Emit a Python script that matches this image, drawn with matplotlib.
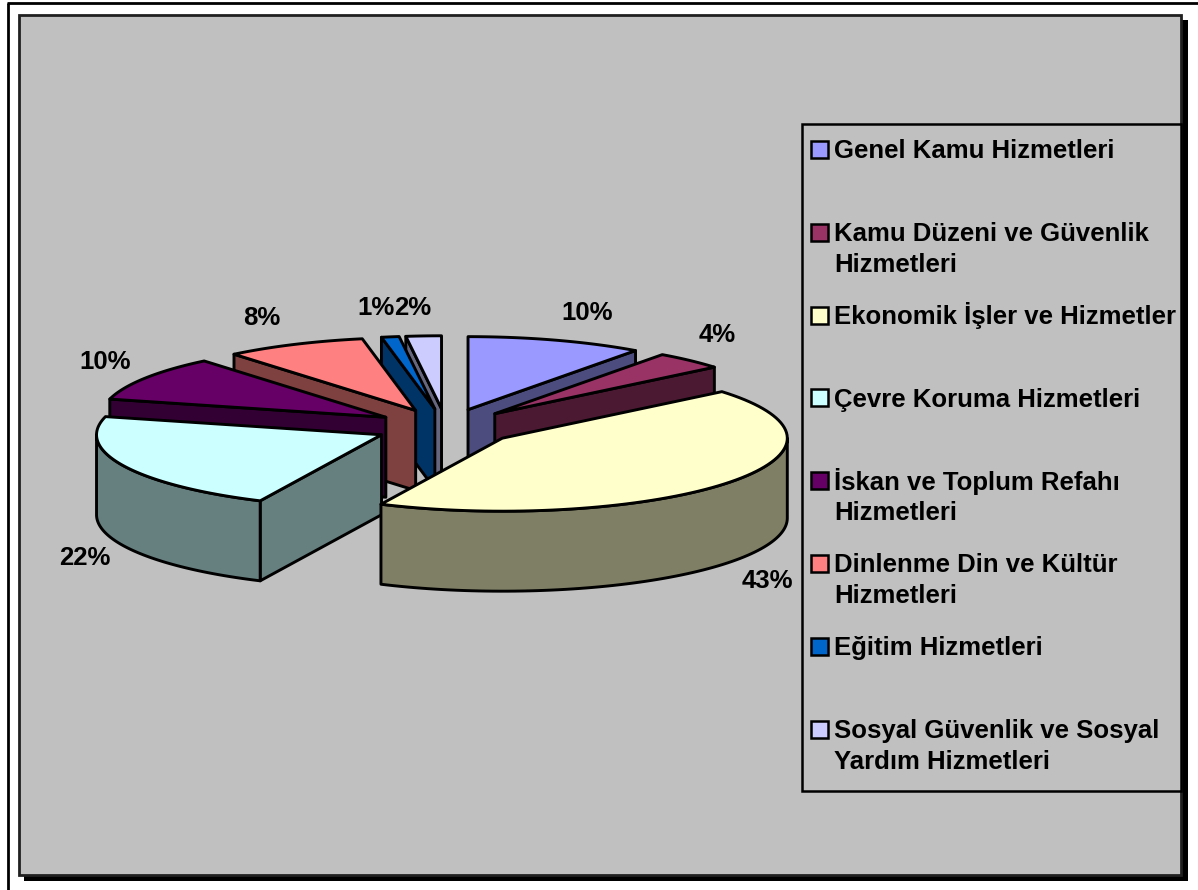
import numpy as np
import matplotlib
matplotlib.use("Agg")
import matplotlib.pyplot as plt
from matplotlib.patches import Polygon, Rectangle

labels = [
    "Genel Kamu Hizmetleri",
    "Kamu Düzeni ve Güvenlik\nHizmetleri",
    "Ekonomik İşler ve Hizmetler",
    "Çevre Koruma Hizmetleri",
    "İskan ve Toplum Refahı\nHizmetleri",
    "Dinlenme Din ve Kültür\nHizmetleri",
    "Eğitim Hizmetleri",
    "Sosyal Güvenlik ve Sosyal\nYardım Hizmetleri",
]
values = [10, 4, 43, 22, 10, 8, 1, 2]
top_colors = ["#9999FF", "#993366", "#FFFFCC", "#CCFFFF", "#660066", "#FF8080", "#0066CC", "#CCCCFF"]
side_colors = ["#4C4C7F", "#4C1933", "#7F7F66", "#667F7F", "#330033", "#7F4040", "#003366", "#66667F"]
label_pos = [(587, 313), (717, 335), (767, 581), (85, 558), (105, 362), (262, 318), (376, 308), (413, 308)]

BG = "#C0C0C0"
FONT = "Liberation Sans"
LW = 2.1
FONT_SIZE = 18.5

# pie geometry, in pixels
CX, CY = 446, 427
RX, RY = 285, 73
DEPTH = 80
EXPLODE = 0.25


def pt(a, r_x, r_y, ox, oy):
    return ox + r_x * np.sin(a), oy - r_y * np.cos(a)


def arc(a1, a2, ox, oy, dy=0):
    angles = np.linspace(a1, a2, 80)
    return np.column_stack([ox + RX * np.sin(angles), oy + dy - RY * np.cos(angles)])


def add_poly(ax, points, color, z):
    ax.add_patch(Polygon(points, closed=True, facecolor=color, edgecolor="black",
                         linewidth=LW, joinstyle="round", zorder=z))


def draw_slice(ax, a1, a2, top, side, z):
    mid = (a1 + a2) / 2
    ox, oy = pt(mid, EXPLODE * RX, EXPLODE * RY, CX, CY)
    apex = np.array([[ox, oy]])
    down = np.array([0, DEPTH])

    # cut faces, only the ones turned to the viewer
    if np.sin(a1) < -1e-6:
        p = arc(a1, a1, ox, oy)[:1]
        add_poly(ax, np.vstack([apex, p, p + down, apex + down]), side, z)
    if np.sin(a2) > 1e-6:
        p = arc(a2, a2, ox, oy)[:1]
        add_poly(ax, np.vstack([apex, p, p + down, apex + down]), side, z)

    # outer wall, front half of the ellipse
    w1 = max(a1, np.pi / 2)
    w2 = min(a2, 3 * np.pi / 2)
    if w2 > w1:
        upper = arc(w1, w2, ox, oy)
        lower = arc(w1, w2, ox, oy, DEPTH)[::-1]
        add_poly(ax, np.vstack([upper, lower]), side, z + 0.1)

    add_poly(ax, np.vstack([apex, arc(a1, a2, ox, oy)]), top, z + 0.2)


fig = plt.figure(figsize=(11.98, 8.90), dpi=100, facecolor="white")
ax = fig.add_axes([0, 0, 1, 1])
ax.set_xlim(0, 1198)
ax.set_ylim(890, 0)
ax.axis("off")

# outer frame, cut off by the picture on right and bottom
ax.plot([8, 8], [890, 3], color="black", lw=2, solid_capstyle="butt", zorder=1)
ax.plot([7, 1198], [3, 3], color="black", lw=2, solid_capstyle="butt", zorder=1)

# chart area with its shadow
ax.add_patch(Rectangle((24, 20), 1164, 861, facecolor="black", edgecolor="none", zorder=1))
ax.add_patch(Rectangle((19, 15), 1162, 859.5, facecolor=BG, edgecolor="#202020", linewidth=2, zorder=2))

# slices, back to front
fractions = np.array(values) / sum(values)
edges = np.concatenate([[0], np.cumsum(fractions)]) * 2 * np.pi
mids = (edges[:-1] + edges[1:]) / 2
order = np.argsort(-np.abs(mids - np.pi))
for n, i in enumerate(order):
    draw_slice(ax, edges[i], edges[i + 1], top_colors[i], side_colors[i], 3 + n)

for value, (x, y) in zip(values, label_pos):
    ax.text(x, y, f"{value}%", family=FONT, fontweight="bold", fontsize=FONT_SIZE,
            ha="center", va="center", color="black", zorder=20)

# legend
ax.add_patch(Rectangle((801.5, 123.5), 379.5, 667, facecolor=BG, edgecolor="black", linewidth=1.8, zorder=21))
for i, label in enumerate(labels):
    row = 150 + 82.8 * i
    ax.add_patch(Rectangle((810.5, row - 9), 17, 17, facecolor=top_colors[i], edgecolor="black",
                           linewidth=1.8, zorder=22))
    for j, line in enumerate(label.split("\n")):
        ax.text(834, row + 8.5 + 30.5 * j, line, family=FONT, fontweight="bold", fontsize=FONT_SIZE,
                ha="left", va="baseline", color="black", zorder=22)

fig.savefig("out.png", dpi=100, facecolor="white")
